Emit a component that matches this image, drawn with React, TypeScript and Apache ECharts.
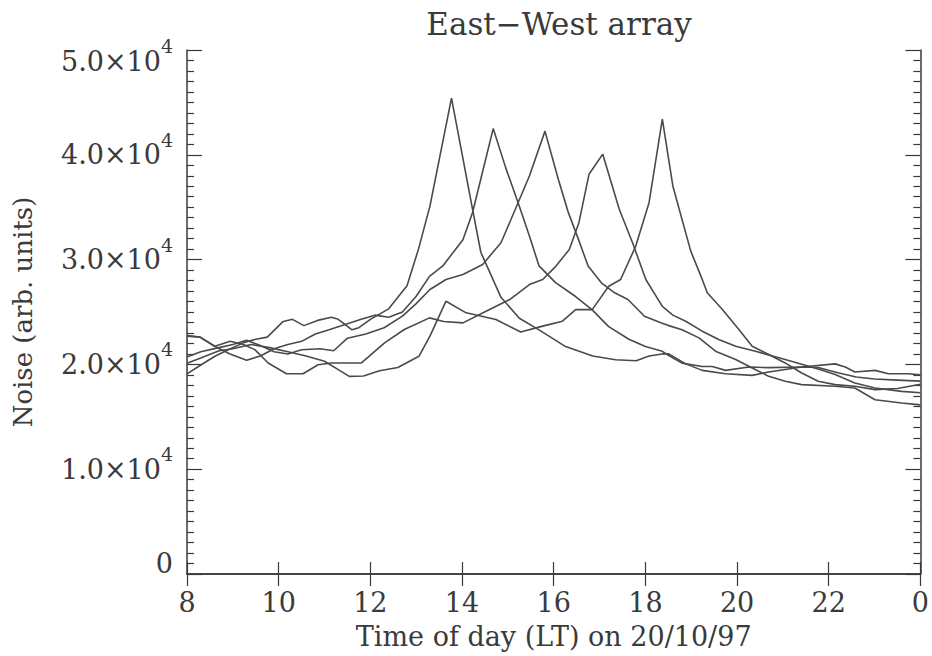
import React, { useEffect, useRef } from "react";
import * as echarts from "echarts";

const titleText = "East\u2212West array";
const xName = "Time of day (LT) on 20/10/97";
const yName = "Noise (arb. units)";

// [hour, noise]
const seriesA = [[8.0,19100],[8.25,19800],[8.6,20750],[8.9,21400],[9.25,22100],[9.5,22400],[9.75,22600],[10.1,24100],[10.3,24300],[10.55,23700],[10.85,24200],[11.15,24500],[11.3,24300],[11.6,23300],[11.75,23500],[12.0,24300],[12.4,25300],[12.8,27500],[13.05,31000],[13.3,35100],[13.77,45400],[14.23,34800],[14.41,30700],[14.85,26400],[15.25,24400],[15.68,23300],[16.26,21700],[16.85,20800],[17.35,20450],[17.8,20350],[18.08,20800],[18.37,21000],[18.51,21000],[18.88,20050],[19.24,19430],[19.75,19110],[20.33,18950],[20.69,19270],[21.41,19750],[22.14,20050],[22.36,19750],[22.57,19270],[23.01,19430],[23.3,19110],[23.74,19110],[24.0,19000]];
const seriesB = [[8.0,22700],[8.28,22600],[8.61,21700],[8.94,21000],[9.3,20400],[9.6,20800],[9.9,21500],[10.2,21900],[10.5,22200],[10.8,22900],[11.1,23300],[11.45,23800],[11.8,24300],[12.1,24700],[12.4,24500],[12.7,25000],[13.0,26500],[13.29,28400],[13.58,29400],[14.02,31900],[14.23,34500],[14.68,42500],[14.95,38800],[15.25,35100],[15.47,32250],[15.68,29400],[16.04,27800],[16.47,26500],[16.84,25200],[17.2,23600],[17.64,22400],[18.0,21700],[18.37,21250],[18.51,20850],[18.8,20120],[19.24,19800],[19.46,19800],[19.75,19430],[20.26,19750],[20.69,19690],[21.41,19750],[21.77,19700],[22.2,19200],[22.6,18800],[23.0,18600],[23.5,18500],[24.0,18400]];
const seriesC = [[8.0,20700],[8.3,21200],[8.7,21600],[9.0,21900],[9.3,22300],[9.6,21800],[9.9,21200],[10.2,21000],[10.5,21400],[10.9,21500],[11.2,21300],[11.5,22500],[11.9,22900],[12.3,23500],[12.7,24600],[13.0,25800],[13.3,27150],[13.65,28100],[14.02,28580],[14.45,29540],[14.85,31610],[15.07,33850],[15.47,37980],[15.81,42260],[16.1,37670],[16.32,34480],[16.54,31930],[16.75,29380],[17.04,27780],[17.33,26830],[17.62,26190],[17.98,24600],[18.35,23960],[18.51,23700],[18.8,23300],[19.17,22530],[19.53,21260],[19.97,20460],[20.33,19660],[20.69,18860],[21.05,18390],[21.41,18070],[22.14,17910],[22.57,17750],[23.01,16630],[23.59,16310],[24.0,16140]];
const seriesD = [[8.0,22750],[8.28,22620],[8.61,21730],[8.94,22210],[9.23,21890],[9.48,21410],[9.77,20130],[10.17,19110],[10.53,19110],[10.86,19970],[11.15,20130],[11.8,20130],[12.31,22050],[12.74,23330],[13.29,24440],[13.6,24100],[14.02,23960],[14.6,25230],[15.04,26190],[15.47,27620],[15.76,28100],[16.05,29380],[16.34,30970],[16.55,33520],[16.77,38140],[17.07,40060],[17.43,34800],[17.72,31610],[18.01,28100],[18.37,25530],[18.6,24700],[18.88,24120],[19.24,23170],[19.6,22370],[19.97,21730],[20.4,21250],[21.05,20460],[21.77,19570],[22.14,19030],[22.57,18230],[23.01,17750],[23.59,17430],[24.0,17300]];
const seriesE = [[8.0,20100],[8.3,20600],[8.7,21300],[9.0,21500],[9.4,21900],[9.8,21600],[10.2,21200],[10.6,20800],[11.0,20300],[11.3,19500],[11.54,18860],[11.85,18900],[12.2,19400],[12.6,19700],[13.06,20770],[13.3,22700],[13.65,26030],[14.09,24920],[14.74,24280],[15.28,23100],[15.76,23650],[16.19,24120],[16.48,25230],[16.84,25230],[17.2,27460],[17.46,28100],[17.79,31290],[18.08,35430],[18.37,43400],[18.6,37000],[18.99,30810],[19.24,28110],[19.35,26830],[19.68,25240],[20.04,23330],[20.33,21730],[20.69,20940],[21.05,20140],[21.4,19200],[21.77,18390],[22.14,18070],[22.57,17910],[23.01,17590],[23.5,17700],[24.0,18100]];

const allSeries = [seriesA, seriesB, seriesC, seriesD, seriesE];

const FONT = "DejaVu Serif";
const INK = "#3a3a3a";
const TICK_FS = 27;

export default function App() {
  const ref = useRef<HTMLDivElement>(null);
  useEffect(() => {
    if (!ref.current) return;
    const chart = echarts.init(ref.current, null, { renderer: "svg" });
    const axisLine = { show: true, lineStyle: { color: INK, width: 1.5 } };
    const tickStyle = { color: INK, width: 1.2 };
    chart.setOption({
      animation: false,
      backgroundColor: "#ffffff",
      title: {
        text: titleText,
        left: 554,
        textAlign: "center",
        top: 3,
        textStyle: { fontFamily: FONT, fontWeight: "normal", fontSize: 31, color: INK },
      },
      grid: { left: 187, top: 50, width: 735, height: 524 },
      xAxis: [
        {
          type: "value",
          position: "bottom",
          min: 8,
          max: 24,
          interval: 2,
          axisLine,
          axisTick: { show: true, inside: true, length: 12, lineStyle: tickStyle },
          splitLine: { show: false },
          axisLabel: {
            margin: 15,
            fontFamily: FONT,
            fontSize: TICK_FS,
            color: INK,
            formatter: (v: number) => String(v % 24),
          },
          name: xName,
          nameLocation: "middle",
          nameGap: 49,
          nameTextStyle: { fontFamily: FONT, fontSize: 27, color: INK },
        },
        {
          type: "value",
          position: "top",
          min: 8,
          max: 24,
          interval: 2,
          axisLine,
          axisTick: { show: true, inside: true, length: 12, lineStyle: tickStyle },
          axisLabel: { show: false },
          splitLine: { show: false },
        },
      ],
      yAxis: [
        {
          type: "value",
          position: "left",
          min: 0,
          max: 50000,
          interval: 10000,
          axisLine,
          axisTick: { show: true, inside: true, length: 15, lineStyle: tickStyle },
          minorTick: { show: true, splitNumber: 10, length: 7, lineStyle: tickStyle },
          splitLine: { show: false },
          minorSplitLine: { show: false },
          axisLabel: {
            margin: 14,
            color: INK,
            fontFamily: FONT,
            formatter: (v: number) => {
              if (v === 0) return "{z|0}";
              const m = (v / 10000).toFixed(1) + "\u00d710";
              if (v === 50000) return `{t|${m}}{u|4}`;
              return `{n|${m}}{s|4}`;
            },
            rich: {
              z: { fontFamily: FONT, fontSize: TICK_FS, color: INK, padding: [0, 0, 22, 0] },
              n: { fontFamily: FONT, fontSize: TICK_FS, color: INK },
              s: { fontFamily: FONT, fontSize: 19, color: INK, padding: [0, 0, 30, 0] },
              t: { fontFamily: FONT, fontSize: TICK_FS, color: INK, padding: [22, 0, 0, 0] },
              u: { fontFamily: FONT, fontSize: 19, color: INK, padding: [0, 0, 8, 0] },
            },
          },
          name: yName,
          nameLocation: "middle",
          nameGap: 151,
          nameRotate: 90,
          nameTextStyle: { fontFamily: FONT, fontSize: 26, color: INK },
        },
        {
          type: "value",
          position: "right",
          min: 0,
          max: 50000,
          interval: 10000,
          axisLine,
          axisTick: { show: true, inside: true, length: 15, lineStyle: tickStyle },
          minorTick: { show: true, splitNumber: 10, length: 7, lineStyle: tickStyle },
          axisLabel: { show: false },
          splitLine: { show: false },
          minorSplitLine: { show: false },
        },
      ],
      series: allSeries.map((d, i) => ({
        name: "beam" + (i + 1),
        type: "line",
        xAxisIndex: 0,
        yAxisIndex: 0,
        data: d,
        showSymbol: false,
        symbol: "none",
        lineStyle: { color: "#4a4a4a", width: 1.6 },
      })),
    });
    return () => chart.dispose();
  }, []);
  return (
    <div
      ref={ref}
      style={{ position: "absolute", left: 0, top: 0, width: 932, height: 656 }}
    />
  );
}
